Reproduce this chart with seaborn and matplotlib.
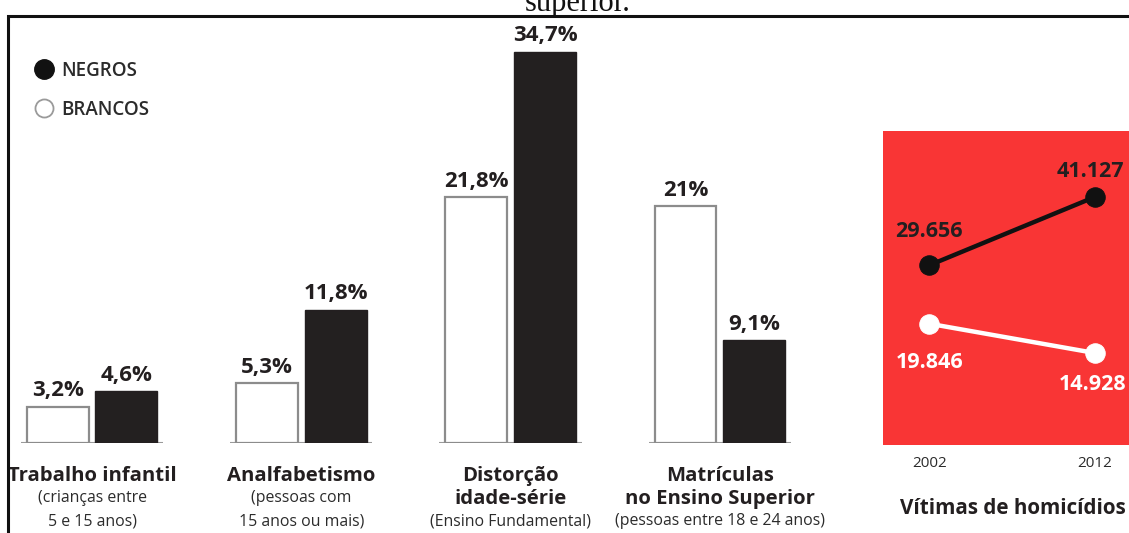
import matplotlib
matplotlib.use("Agg")
import matplotlib.pyplot as plt
import matplotlib.transforms as mtransforms
from matplotlib.lines import Line2D
from matplotlib.patches import Rectangle
import seaborn as sns
import pandas as pd

# ---- data -------------------------------------------------------------
categorias = ["Trabalho infantil", "Analfabetismo",
              "Distorção idade-série", "Matrículas no Ensino Superior"]
brancos = [3.2, 5.3, 21.8, 21.0]
negros = [4.6, 11.8, 34.7, 9.1]

titulos = ["Trabalho infantil", "Analfabetismo",
           "Distorção\nidade-série", "Matrículas\nno Ensino Superior"]
subtitulos = ["(crianças entre\n5 e 15 anos)", "(pessoas com\n15 anos ou mais)",
              "(Ensino Fundamental)", "(pessoas entre 18 e 24 anos)"]

anos = [2002, 2012]
homicidios_negros = [29656, 41127]
homicidios_brancos = [19846, 14928]

# ---- styling ----------------------------------------------------------
sns.set_theme(style="white")
plt.rcParams["font.family"] = ["Open Sans", "DejaVu Sans"]

W, H = 1129, 533
PRETO = "#231f20"
CINZA = "#8c8c8c"
VERMELHO = "#f93535"
TEXTO = "#2b2b2b"


def fx(px):
    return px / W


def fy(py):
    return (H - py) / H


def pct(v):
    s = f"{v:.1f}".rstrip("0").rstrip(".")
    return s.replace(".", ",") + "%"


def milhar(v):
    return f"{v:,}".replace(",", ".")


fig = plt.figure(figsize=(W / 100, H / 100), dpi=100)

# frame around the infographic and the caption line above it
fig.patches.append(Rectangle((fx(8), -0.1), 1.2, fy(16) + 0.1,
                             transform=fig.transFigure, fill=False,
                             edgecolor="#111111", linewidth=2.2, zorder=0))
fig.text(fx(578), fy(11), "superior.", family="Liberation Serif",
         fontsize=22, ha="center", va="baseline", color="#111111")

# ---- grouped bars -----------------------------------------------------
df = pd.DataFrame({
    "categoria": categorias * 2,
    "grupo": ["Brancos"] * len(categorias) + ["Negros"] * len(categorias),
    "valor": brancos + negros,
})

x0, dx = 92.0, 209.3          # pixel position of first group, pixels per group
xmin, xmax = -0.4, 3.45
base_px, px_per_pct, ymax = 443, 11.27, 36
ax = fig.add_axes([fx(x0 + xmin * dx), (H - base_px) / H,
                   (xmax - xmin) * dx / W, ymax * px_per_pct / H])
sns.barplot(data=df, x="categoria", y="valor", hue="grupo",
            hue_order=["Brancos", "Negros"],
            palette={"Brancos": "white", "Negros": PRETO},
            width=0.657, gap=0.1, errorbar=None, legend=False, ax=ax)
ax.set_xlim(xmin, xmax)
ax.set_ylim(0, ymax)
ax.axis("off")

for cont, edge, lw in zip(ax.containers, [CINZA, PRETO], [1.6, 1.0]):
    for bar in cont:
        bar.set_edgecolor(edge)
        bar.set_linewidth(lw)
    ax.bar_label(cont, labels=[pct(b.get_height()) for b in cont],
                 padding=4, fontsize=16, fontweight="bold", color=PRETO)

for i in range(len(categorias)):
    ax.hlines(0, i - 0.34, i + 0.34, color="#9a9a9a", linewidth=1.5, zorder=0)

trans = mtransforms.blended_transform_factory(ax.transData, fig.transFigure)
for i, (t, s) in enumerate(zip(titulos, subtitulos)):
    linhas_t = t.split("\n")
    for j, linha in enumerate(linhas_t):
        ax.text(i, fy(476 + 23 * j), linha, transform=trans, ha="center",
                va="center", fontsize=14.6, fontweight="bold", color=PRETO,
                clip_on=False)
    y_sub = 476 + 23 * (len(linhas_t) - 1) + 22
    for k, linha in enumerate(s.split("\n")):
        ax.text(i, fy(y_sub + 24 * k), linha, transform=trans, ha="center",
                va="center", fontsize=11.4, color=TEXTO, clip_on=False)

# legend
handles = [
    Line2D([], [], linestyle="", marker="o", markersize=14,
           markerfacecolor="#111111", markeredgecolor="#111111"),
    Line2D([], [], linestyle="", marker="o", markersize=13,
           markerfacecolor="white", markeredgecolor="#9a9a9a",
           markeredgewidth=1.3),
]
fig.legend(handles, ["NEGROS", "BRANCOS"], loc="upper left",
           bbox_to_anchor=(fx(33), fy(61)), frameon=False,
           handlelength=1.2, handletextpad=0.3, labelspacing=1.0,
           borderpad=0, borderaxespad=0,
           prop={"weight": "semibold", "size": 13.5}, labelcolor=TEXTO)

# ---- homicide victims panel ------------------------------------------
dh = pd.DataFrame({
    "ano": anos * 2,
    "grupo": ["Negros"] * 2 + ["Brancos"] * 2,
    "vitimas": homicidios_negros + homicidios_brancos,
})

p_left, p_top, p_bot = 882.5, 130.5, 445
px_per_year = 16.57
zero_px, px_per_k = 442, 5.96
ax2 = fig.add_axes([fx(p_left), (H - p_bot) / H, (W - p_left) / W,
                    (p_bot - p_top) / H])
ax2.set_facecolor(VERMELHO)
sns.lineplot(data=dh, x="ano", y="vitimas", hue="grupo",
             hue_order=["Negros", "Brancos"],
             palette={"Negros": "#111111", "Brancos": "white"},
             marker="o", markersize=14, linewidth=3.2, legend=False, ax=ax2)
for ln in ax2.lines:
    ln.set_markeredgecolor(ln.get_color())

x_lo = anos[0] - (929.3 - p_left) / px_per_year
ax2.set_xlim(x_lo, x_lo + (W - p_left) / px_per_year)
ax2.set_ylim((zero_px - p_bot) / px_per_k * 1000,
             (zero_px - p_top) / px_per_k * 1000)
ax2.set_xticks(anos)
ax2.set_xticklabels([str(a) for a in anos], fontsize=11, color=TEXTO)
ax2.set_yticks([])
ax2.tick_params(axis="x", length=0, pad=8)
ax2.set_xlabel("")
ax2.set_ylabel("")
for sp in ax2.spines.values():
    sp.set_visible(False)

for a, v, off in zip(anos, homicidios_negros, [(0, 24), (-3, 18)]):
    ax2.annotate(milhar(v), (a, v), xytext=off, textcoords="offset points",
                 ha="center", va="center", fontsize=15.5, fontweight="bold",
                 color=PRETO, annotation_clip=False)
for a, v, off in zip(anos, homicidios_brancos, [(0, -28), (-2, -23)]):
    ax2.annotate(milhar(v), (a, v), xytext=off, textcoords="offset points",
                 ha="center", va="center", fontsize=15.5, fontweight="bold",
                 color="white", annotation_clip=False)

fig.text(fx(1013), fy(508), "Vítimas de homicídios", ha="center",
         va="center", fontsize=14.9, fontweight="bold", color=PRETO)

fig.savefig("out.png", dpi=100, facecolor="white")
